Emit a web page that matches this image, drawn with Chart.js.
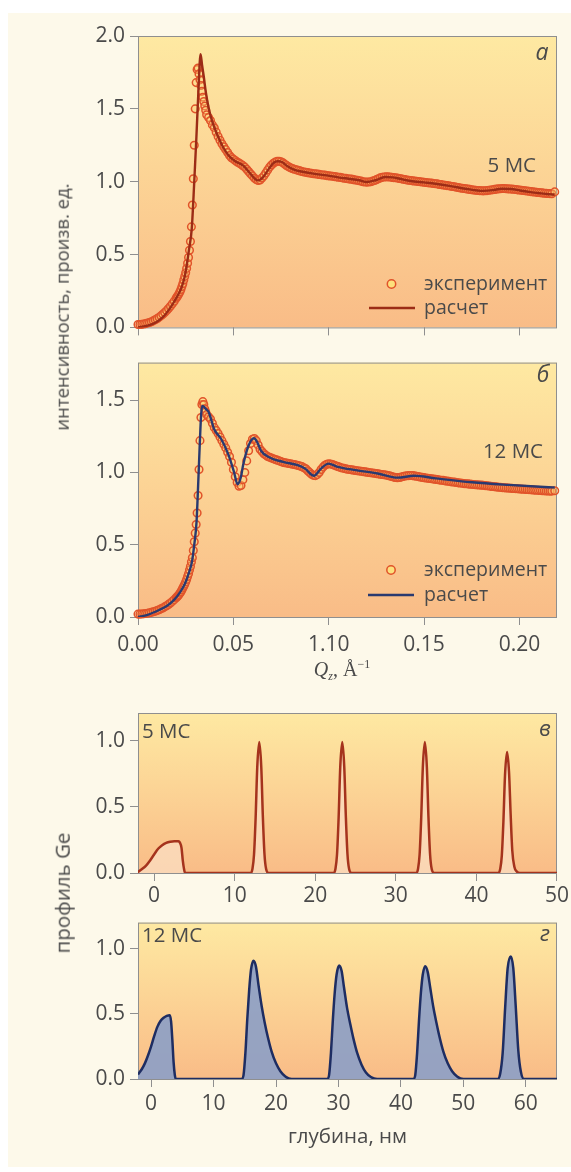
<!DOCTYPE html>
<html lang="ru">
<head>
<meta charset="utf-8">
<title>Рентгеновская рефлектометрия и профили Ge</title>
<script src="https://cdn.jsdelivr.net/npm/chart.js@4.4.1/dist/chart.umd.min.js"></script>
<style>
  html, body { margin: 0; padding: 0; background: #ffffff; }
  #page { position: relative; width: 571px; height: 1172px; overflow: hidden; font-family: "Open Sans", sans-serif; }
  #sheet { position: absolute; left: 8px; top: 13px; width: 563px; height: 1154px; background: #fdf9ea; }
  canvas { position: absolute; left: 0; }
  .ytitle { position: absolute; white-space: nowrap; color: #4a4a4a; line-height: 1;
            transform: translate(-50%, -50%) rotate(-90deg); }
  #qz { position: absolute; left: 342px; top: 670px; transform: translate(-50%, -50%); white-space: nowrap;
        font-family: "Liberation Serif", "DejaVu Serif", serif; font-size: 20px; color: #4a4a4a; line-height: 1; }
  #qz sub { font-size: 12px; vertical-align: -4px; font-style: italic; }
  #qz sup { font-size: 12px; vertical-align: 8px; }
</style>
</head>
<body>
<div id="page">
  <div id="sheet"></div>
  <canvas id="cA" width="571" height="345" style="top:0px"></canvas>
  <canvas id="cB" width="571" height="350" style="top:345px"></canvas>
  <canvas id="cC" width="571" height="215" style="top:695px"></canvas>
  <canvas id="cD" width="571" height="267" style="top:905px"></canvas>
  <div class="ytitle" style="left:62px; top:307px; font-size:18.5px">интенсивность, произв. ед.</div>
  <div class="ytitle" style="left:62px; top:893px; font-size:20.5px">профиль Ge</div>
  <div id="qz"><i>Q</i><sub>z</sub>, Å<sup>−1</sup></div>
</div>
<script>
// ---------- reflectivity, 5 MC sample: fitted curve ----------
const qCalc5 = [0, 0.005, 0.0093, 0.013, 0.017, 0.020, 0.0227, 0.0245, 0.0256, 0.0267,
  0.0282, 0.0295, 0.0306, 0.0316, 0.0328, 0.0336, 0.0345, 0.0355, 0.037, 0.039,
  0.0418, 0.0445, 0.0475, 0.051, 0.0552, 0.059, 0.0628, 0.0655, 0.0686, 0.0712,
  0.0733, 0.0755, 0.078, 0.0815, 0.0857, 0.092, 0.099, 0.105, 0.1105, 0.116,
  0.120, 0.1245, 0.1296, 0.1335, 0.1373, 0.143, 0.150, 0.156, 0.164, 0.1717,
  0.181, 0.186, 0.1907, 0.1955, 0.2003, 0.205, 0.210, 0.2155, 0.2185];
const iCalc5 = [0.0, 0.012, 0.034, 0.07, 0.136, 0.2, 0.27, 0.35, 0.43, 0.53,
  0.68, 1.0, 1.3, 1.6, 1.875, 1.80, 1.72, 1.62, 1.51, 1.41,
  1.315, 1.24, 1.18, 1.14, 1.11, 1.054, 1.009, 1.03, 1.088, 1.13,
  1.14, 1.135, 1.11, 1.085, 1.07, 1.055, 1.043, 1.03, 1.02, 1.01,
  0.998, 1.01, 1.032, 1.03, 1.02, 1.005, 0.995, 0.986, 0.97, 0.952,
  0.937, 0.942, 0.952, 0.95, 0.94, 0.93, 0.922, 0.914, 0.912];

// ---------- measured points (same Q grid for both samples) ----------
const qExp = [0.000, 0.001, 0.002, 0.003, 0.004, 0.005, 0.006, 0.007, 0.008, 0.009,
  0.010, 0.011, 0.012, 0.013, 0.014, 0.015, 0.016, 0.017, 0.018, 0.019,
  0.020, 0.0205, 0.021, 0.0215, 0.022, 0.0225, 0.023, 0.0235, 0.024, 0.0245,
  0.025, 0.0255, 0.026, 0.0265, 0.027, 0.0275, 0.028, 0.0285, 0.029, 0.0295,
  0.030, 0.0305, 0.031, 0.0315, 0.032, 0.0325, 0.033, 0.0335, 0.034, 0.0345,
  0.035, 0.0355, 0.036,
  0.037, 0.038, 0.039, 0.040, 0.041, 0.042, 0.043, 0.044, 0.045, 0.046,
  0.047, 0.048, 0.049, 0.050, 0.051, 0.052, 0.053, 0.054, 0.055, 0.056,
  0.057, 0.058, 0.059, 0.060, 0.061, 0.062, 0.063, 0.064, 0.065, 0.066,
  0.067, 0.068, 0.069, 0.070, 0.071, 0.072, 0.073, 0.074, 0.075, 0.076,
  0.077, 0.078, 0.079, 0.080, 0.081, 0.082, 0.083, 0.084, 0.085, 0.086,
  0.087, 0.088, 0.089, 0.090, 0.091, 0.092, 0.093, 0.094, 0.095, 0.096,
  0.097, 0.098, 0.099, 0.100, 0.101, 0.102, 0.103, 0.104, 0.105, 0.106,
  0.107, 0.108, 0.109, 0.110, 0.111, 0.112, 0.113, 0.114, 0.115, 0.116,
  0.117, 0.118, 0.119, 0.120, 0.121, 0.122, 0.123, 0.124, 0.125, 0.126,
  0.127, 0.128, 0.129, 0.130, 0.131, 0.132, 0.133, 0.134, 0.135, 0.136,
  0.137, 0.138, 0.139, 0.140, 0.141, 0.142, 0.143, 0.144, 0.145, 0.146,
  0.147, 0.148, 0.149, 0.150, 0.151, 0.152, 0.153, 0.154, 0.155, 0.156,
  0.157, 0.158, 0.159, 0.160, 0.161, 0.162, 0.163, 0.164, 0.165, 0.166,
  0.167, 0.168, 0.169, 0.170, 0.171, 0.172, 0.173, 0.174, 0.175, 0.176,
  0.177, 0.178, 0.179, 0.180, 0.181, 0.182, 0.183, 0.184, 0.185, 0.186,
  0.187, 0.188, 0.189, 0.190, 0.191, 0.192, 0.193, 0.194, 0.195, 0.196,
  0.197, 0.198, 0.199, 0.200, 0.201, 0.202, 0.203, 0.204, 0.205, 0.206,
  0.207, 0.208, 0.209, 0.210, 0.211, 0.212, 0.213, 0.214, 0.215, 0.216,
  0.217, 0.2185];
const iExp5 = [0.020, 0.020, 0.021, 0.023, 0.026, 0.030, 0.034, 0.039, 0.045, 0.052,
  0.060, 0.069, 0.079, 0.090, 0.102, 0.115, 0.130, 0.145, 0.162, 0.180,
  0.200, 0.210, 0.220, 0.232, 0.245, 0.260, 0.280, 0.300, 0.325, 0.350,
  0.375, 0.405, 0.440, 0.480, 0.530, 0.590, 0.690, 0.840, 1.020, 1.250,
  1.500, 1.680, 1.770, 1.780, 1.740, 1.700, 1.660, 1.620, 1.580, 1.550,
  1.520, 1.490, 1.460,
  1.44, 1.42, 1.39, 1.37, 1.34, 1.31, 1.285, 1.26, 1.24, 1.22,
  1.20, 1.18, 1.165, 1.155, 1.145, 1.135, 1.128, 1.12, 1.11, 1.10,
  1.085, 1.07, 1.055, 1.04, 1.025, 1.015, 1.008, 1.012, 1.025, 1.04,
  1.06, 1.08, 1.10, 1.115, 1.127, 1.135, 1.14, 1.14, 1.137, 1.13,
  1.12, 1.11, 1.102, 1.095, 1.09, 1.085, 1.081, 1.078, 1.074, 1.07,
  1.067, 1.065, 1.062, 1.06, 1.057, 1.055, 1.054, 1.052, 1.05, 1.048,
  1.046, 1.045, 1.042, 1.04, 1.039, 1.037, 1.035, 1.033, 1.031, 1.03,
  1.027, 1.024, 1.023, 1.02, 1.018, 1.018, 1.014, 1.012, 1.01, 1.007,
  1.004, 1.0, 0.998, 0.997, 0.998, 1.0, 1.004, 1.008, 1.014, 1.02,
  1.026, 1.03, 1.032, 1.033, 1.033, 1.032, 1.03, 1.028, 1.027, 1.025,
  1.022, 1.02, 1.017, 1.015, 1.012, 1.01, 1.008, 1.006, 1.005, 1.003,
  1.001, 1.0, 0.998, 0.996, 0.995, 0.993, 0.991, 0.99, 0.988, 0.986,
  0.985, 0.981, 0.98, 0.977, 0.976, 0.973, 0.972, 0.969, 0.967, 0.965,
  0.962, 0.96, 0.957, 0.955, 0.953, 0.951, 0.949, 0.947, 0.945, 0.943,
  0.941, 0.94, 0.939, 0.938, 0.937, 0.938, 0.939, 0.941, 0.943, 0.945,
  0.947, 0.949, 0.951, 0.952, 0.953, 0.953, 0.952, 0.951, 0.95, 0.949,
  0.948, 0.946, 0.944, 0.943, 0.941, 0.94, 0.938, 0.936, 0.934, 0.932,
  0.93, 0.929, 0.927, 0.926, 0.924, 0.923, 0.921, 0.92, 0.919, 0.918,
  0.917, 0.93];
const iExp12 = [0.020, 0.020, 0.021, 0.022, 0.024, 0.026, 0.029, 0.032, 0.036, 0.040,
  0.045, 0.050, 0.056, 0.062, 0.070, 0.078, 0.087, 0.097, 0.108, 0.120,
  0.133, 0.140, 0.147, 0.155, 0.165, 0.175, 0.187, 0.200, 0.213, 0.227,
  0.243, 0.260, 0.280, 0.300, 0.325, 0.350, 0.380, 0.410, 0.460, 0.520,
  0.580, 0.640, 0.720, 0.840, 1.020, 1.220, 1.380, 1.470, 1.490, 1.470,
  1.440, 1.420, 1.400,
  1.385, 1.37, 1.34, 1.31, 1.29, 1.27, 1.245, 1.22, 1.195, 1.17,
  1.14, 1.11, 1.07, 1.02, 0.97, 0.93, 0.905, 0.91, 0.95, 1.0,
  1.08, 1.15, 1.2, 1.23, 1.235, 1.22, 1.19, 1.16, 1.145, 1.13,
  1.12, 1.11, 1.105, 1.10, 1.095, 1.09, 1.085, 1.08, 1.075, 1.07,
  1.067, 1.065, 1.062, 1.06, 1.057, 1.055, 1.052, 1.048, 1.044, 1.04,
  1.033, 1.025, 1.012, 1.0, 0.988, 0.98, 0.978, 0.985, 1.0, 1.02,
  1.037, 1.05, 1.057, 1.06, 1.058, 1.055, 1.05, 1.045, 1.04, 1.035,
  1.031, 1.028, 1.025, 1.022, 1.02, 1.018, 1.016, 1.014, 1.012, 1.01,
  1.008, 1.006, 1.004, 1.002, 1.0, 0.998, 0.996, 0.994, 0.992, 0.99,
  0.988, 0.986, 0.984, 0.982, 0.979, 0.976, 0.972, 0.968, 0.965, 0.964,
  0.965, 0.968, 0.972, 0.975, 0.977, 0.978, 0.979, 0.978, 0.976, 0.974,
  0.971, 0.968, 0.966, 0.964, 0.962, 0.96, 0.958, 0.956, 0.954, 0.952,
  0.951, 0.948, 0.946, 0.945, 0.942, 0.94, 0.939, 0.936, 0.934, 0.933,
  0.93, 0.928, 0.927, 0.925, 0.923, 0.922, 0.921, 0.919, 0.918, 0.917,
  0.915, 0.914, 0.913, 0.912, 0.911, 0.909, 0.908, 0.906, 0.904, 0.903,
  0.901, 0.9, 0.898, 0.897, 0.895, 0.894, 0.893, 0.892, 0.891, 0.89,
  0.889, 0.888, 0.887, 0.886, 0.885, 0.884, 0.883, 0.882, 0.881, 0.88,
  0.879, 0.878, 0.877, 0.876, 0.875, 0.874, 0.873, 0.872, 0.872, 0.871,
  0.871, 0.873];

// ---------- reflectivity, 12 MC sample: fitted curve ----------
const qCalc12 = [0, 0.005, 0.0113, 0.0155, 0.0189, 0.022, 0.0246, 0.0268, 0.0284, 0.0295,
  0.0307, 0.0315, 0.0324, 0.0331, 0.0337, 0.0345, 0.0355, 0.037, 0.0385, 0.0399,
  0.0437, 0.0475, 0.0503, 0.0522, 0.054, 0.0551, 0.058, 0.0608, 0.0625, 0.0645,
  0.0685, 0.0761, 0.0837, 0.0875, 0.0923, 0.096, 0.0999, 0.1047, 0.1142, 0.1257,
  0.1362, 0.1448, 0.1562, 0.1752, 0.1943, 0.2153, 0.2185];
const iCalc12 = [0.0, 0.015, 0.05, 0.08, 0.118, 0.17, 0.23, 0.31, 0.39, 0.50,
  0.66, 0.90, 1.20, 1.40, 1.46, 1.455, 1.44, 1.42, 1.36, 1.30,
  1.23, 1.12, 1.005, 0.918, 0.97, 1.05, 1.187, 1.237, 1.21, 1.15,
  1.107, 1.073, 1.05, 1.027, 0.977, 1.027, 1.061, 1.039, 1.016, 0.993,
  0.964, 0.977, 0.959, 0.932, 0.914, 0.898, 0.896];

// ---------- Ge depth profiles ----------
const depth5 = [-2.1, -1.5, -1, -0.5, 0, 0.5, 1, 1.5, 2, 2.5, 3.0, 3.2, 3.4, 3.55, 3.7, 3.85,
  12.0, 12.2, 12.4, 12.6, 12.8, 13.05, 13.3, 13.5, 13.7, 13.9, 14.2,
  22.3, 22.5, 22.7, 22.9, 23.1, 23.35, 23.6, 23.8, 24.0, 24.2, 24.5,
  32.55, 32.75, 32.95, 33.15, 33.35, 33.6, 33.85, 34.05, 34.25, 34.45, 34.75,
  42.75, 42.95, 43.15, 43.35, 43.55, 43.8, 44.05, 44.25, 44.45, 44.7, 45.0, 45.4, 50];
const ge5 = [0.004, 0.03, 0.056, 0.095, 0.14, 0.183, 0.21, 0.228, 0.237, 0.241, 0.24, 0.23, 0.19, 0.1, 0.035, 0,
  0, 0.03, 0.14, 0.42, 0.8, 0.99, 0.8, 0.42, 0.14, 0.03, 0,
  0, 0.03, 0.14, 0.42, 0.8, 0.99, 0.8, 0.42, 0.14, 0.03, 0,
  0, 0.03, 0.14, 0.42, 0.8, 0.99, 0.8, 0.42, 0.14, 0.03, 0,
  0, 0.03, 0.13, 0.39, 0.74, 0.915, 0.76, 0.44, 0.17, 0.05, 0.012, 0, 0];

const depth12 = [-2.1, -1.5, -1, -0.5, 0, 0.5, 1.0, 1.5, 2.0, 2.5, 3.0, 3.2, 3.4, 3.6, 3.8, 3.95,
  14.5, 14.8, 15.1, 15.4, 15.7, 16.0, 16.4, 16.8, 17.2, 17.7, 18.2, 18.7, 19.3, 20.0, 20.7, 21.5, 22.5,
  28.2, 28.5, 28.8, 29.1, 29.4, 29.7, 30.1, 30.5, 30.9, 31.4, 31.9, 32.4, 33.0, 33.7, 34.4, 35.2, 36.2,
  42.0, 42.3, 42.6, 42.9, 43.2, 43.5, 43.9, 44.3, 44.7, 45.2, 45.7, 46.2, 46.8, 47.5, 48.2, 49.0, 50.0,
  55.5, 55.9, 56.3, 56.7, 57.1, 57.6, 58.0, 58.4, 58.8, 59.2, 59.7, 65];
const ge12 = [0.035, 0.075, 0.12, 0.18, 0.25, 0.33, 0.40, 0.445, 0.47, 0.485, 0.49, 0.44, 0.30, 0.13, 0.03, 0,
  0, 0.03, 0.2, 0.46, 0.68, 0.84, 0.908, 0.86, 0.72, 0.56, 0.43, 0.32, 0.21, 0.12, 0.06, 0.02, 0,
  0, 0.03, 0.2, 0.45, 0.66, 0.8, 0.87, 0.83, 0.7, 0.54, 0.42, 0.31, 0.2, 0.11, 0.05, 0.015, 0,
  0, 0.03, 0.2, 0.45, 0.66, 0.8, 0.865, 0.82, 0.7, 0.55, 0.43, 0.32, 0.21, 0.12, 0.06, 0.02, 0,
  0, 0.04, 0.2, 0.55, 0.85, 0.94, 0.85, 0.55, 0.22, 0.06, 0, 0];

// ---------- axis ticks ----------
const qTicks = [0, 0.05, 0.10, 0.15, 0.20];
const qTickLabels = ['0.00', '0.05', '1.10', '0.15', '0.20'];
const intensityTicksA = [0, 0.5, 1.0, 1.5, 2.0];
const intensityTicksB = [0, 0.5, 1.0, 1.5];
const profileTicks = [0, 0.5, 1.0];
const depthTicks5 = [0, 10, 20, 30, 40, 50];
const depthTicks12 = [0, 10, 20, 30, 40, 50, 60];

// ---------- drawing ----------
const FONT = '"Open Sans", sans-serif';
const INK = '#4a4a4a';
const FRAME = '#8f8f8f';
const TICK_SIZE = 21;
const pairs = (xs, ys) => xs.map((x, i) => ({ x: x, y: ys[i] }));

const panelDecor = {
  id: 'panelDecor',
  beforeDatasetsDraw(chart, args, o) {
    const { ctx, chartArea: a } = chart;
    ctx.save();
    const g = ctx.createLinearGradient(0, a.top, 0, a.bottom);
    o.gradient.forEach(s => g.addColorStop(s[0], s[1]));
    ctx.fillStyle = g;
    ctx.fillRect(a.left, a.top, a.right - a.left, a.bottom - a.top);
    ctx.strokeStyle = FRAME;
    ctx.lineWidth = 1;
    ctx.strokeRect(a.left + 0.5, a.top + 0.5, a.right - a.left - 1, a.bottom - a.top);
    ctx.restore();
  },
  afterDraw(chart, args, o) {
    const ctx = chart.ctx;
    ctx.save();
    ctx.textBaseline = 'alphabetic';
    (o.notes || []).forEach(n => {
      ctx.font = n.font;
      ctx.fillStyle = INK;
      ctx.textAlign = n.align;
      ctx.fillText(n.text, n.x, n.y);
    });
    if (o.legend) {
      const L = o.legend;
      const ds = chart.data.datasets;
      L.rows.forEach(r => {
        const d = ds[r.dataset];
        if (r.kind === 'circle') {
          ctx.beginPath();
          ctx.arc(L.markX, r.y, d.pointRadius + 0.4, 0, Math.PI * 2);
          ctx.fillStyle = '#fde07c';
          ctx.fill();
          ctx.lineWidth = d.pointBorderWidth;
          ctx.strokeStyle = d.pointBorderColor;
          ctx.stroke();
        } else {
          ctx.beginPath();
          ctx.moveTo(L.lineX0, r.y);
          ctx.lineTo(L.lineX1, r.y);
          ctx.lineWidth = d.borderWidth;
          ctx.strokeStyle = d.borderColor;
          ctx.stroke();
        }
        ctx.font = '19.5px ' + FONT;
        ctx.fillStyle = INK;
        ctx.textAlign = 'left';
        ctx.fillText(d.label, L.textX, r.y + 6);
      });
    }
    ctx.restore();
  }
};

function panel(id, c) {
  return new Chart(document.getElementById(id), {
    type: 'line',
    data: { datasets: c.datasets },
    options: {
      responsive: false,
      animation: false,
      devicePixelRatio: 1,
      events: [],
      layout: { padding: { left: 0, right: 14, top: c.padTop, bottom: 0 } },
      plugins: {
        legend: { display: false },
        tooltip: { enabled: false },
        panelDecor: { gradient: c.gradient, notes: c.notes, legend: c.legend }
      },
      scales: {
        x: {
          type: 'linear', min: c.xMin, max: c.xMax,
          afterBuildTicks: s => { s.ticks = c.xTicks.map(v => ({ value: v })); },
          afterFit: s => { s.height = c.xHeight; },
          grid: { drawOnChartArea: false, drawTicks: true, tickLength: 8, color: FRAME, lineWidth: 1 },
          border: { display: false },
          ticks: {
            display: !!c.xLabels, autoSkip: false, maxRotation: 0, padding: c.xPad,
            font: { family: FONT, size: TICK_SIZE }, color: INK,
            callback: (v, i) => c.xLabels ? c.xLabels[i] : ''
          },
          title: c.xTitle || { display: false }
        },
        y: {
          min: 0, max: c.yMax,
          afterBuildTicks: s => { s.ticks = c.yTicks.map(v => ({ value: v })); },
          afterFit: s => { s.width = 138; },
          grid: { drawOnChartArea: false, drawTicks: true, tickLength: 8, color: FRAME, lineWidth: 1 },
          border: { display: false },
          ticks: { padding: 5, font: { family: FONT, size: TICK_SIZE }, color: INK, callback: v => v.toFixed(1) }
        }
      }
    },
    plugins: [panelDecor]
  });
}

function reflectivitySets(qc, ic, ie, lineColor) {
  return [
    { label: 'расчет', data: pairs(qc, ic), borderColor: lineColor, borderWidth: 2.4,
      pointRadius: 0, cubicInterpolationMode: 'monotone', fill: false, order: 0 },
    { label: 'эксперимент', data: pairs(qExp, ie), showLine: false, pointRadius: 3.8,
      pointBorderWidth: 1.5, pointBorderColor: '#e1532a', pointBackgroundColor: 'rgba(253,214,120,0.35)',
      pointStyle: 'circle', clip: false, order: 1 }
  ];
}

function profileSet(xs, ys, line, fillColor) {
  return [{ label: 'профиль', data: pairs(xs, ys), borderColor: line, backgroundColor: fillColor,
    borderWidth: 2.5, pointRadius: 0, cubicInterpolationMode: 'monotone', fill: 'origin' }];
}

const warm = [[0, '#fee9a2'], [0.45, '#fcd596'], [1, '#f9bc87']];

function build() {
  panel('cA', {
    padTop: 36, xHeight: 15, xPad: 6, xMin: 0, xMax: 0.2197, xTicks: qTicks, xLabels: null,
    yMax: 2.0, yTicks: intensityTicksA, gradient: warm,
    datasets: reflectivitySets(qCalc5, iCalc5, iExp5, '#9c2c16'),
    notes: [
      { text: 'a', x: 542, y: 60, align: 'center', font: 'italic 23px ' + FONT },
      { text: '5 МС', x: 536, y: 172, align: 'right', font: '20.5px ' + FONT }
    ],
    legend: { markX: 391.5, lineX0: 369, lineX1: 415, textX: 424,
      rows: [{ dataset: 1, kind: 'circle', y: 284 }, { dataset: 0, kind: 'line', y: 308 }] }
  });

  panel('cB', {
    padTop: 14, xHeight: 78, xPad: 7, xMin: 0, xMax: 0.2197, xTicks: qTicks, xLabels: qTickLabels,
    yMax: 1.76, yTicks: intensityTicksB, gradient: warm,
    datasets: reflectivitySets(qCalc12, iCalc12, iExp12, '#2a3a70'),
    notes: [
      { text: 'б', x: 543, y: 37, align: 'center', font: 'italic 23px ' + FONT },
      { text: '12 МС', x: 543, y: 113, align: 'right', font: '20.5px ' + FONT }
    ],
    legend: { markX: 391, lineX0: 368, lineX1: 414, textX: 424,
      rows: [{ dataset: 1, kind: 'circle', y: 225 }, { dataset: 0, kind: 'line', y: 250 }] }
  });

  panel('cC', {
    padTop: 18, xHeight: 37, xPad: 2, xMin: -2.0, xMax: 50, xTicks: depthTicks5,
    xLabels: depthTicks5.map(String), yMax: 1.21, yTicks: profileTicks, gradient: warm,
    datasets: profileSet(depth5, ge5, '#a5331d', 'rgba(250,218,188,0.85)'),
    notes: [
      { text: 'в', x: 545, y: 41, align: 'center', font: 'italic 22px ' + FONT },
      { text: '5 МС', x: 142, y: 43, align: 'left', font: '20.5px ' + FONT }
    ]
  });

  panel('cD', {
    padTop: 13, xHeight: 93, xPad: 4, xMin: -2.1, xMax: 65, xTicks: depthTicks12,
    xLabels: depthTicks12.map(String), yMax: 1.2, yTicks: profileTicks, gradient: warm,
    datasets: profileSet(depth12, ge12, '#1e2d62', 'rgba(141,160,198,0.92)'),
    notes: [
      { text: 'г', x: 545, y: 36, align: 'center', font: 'italic 22px ' + FONT },
      { text: '12 МС', x: 142, y: 37, align: 'left', font: '20.5px ' + FONT }
    ],
    xTitle: { display: true, text: 'глубина, нм', color: INK, font: { family: FONT, size: 20.5 },
      padding: { top: 0, bottom: 23 } }
  });
}

const fontLoads = [document.fonts.load('21px "Open Sans"'), document.fonts.load('italic 22px "Open Sans"')];
Promise.all(fontLoads).then(build, build);
</script>
</body>
</html>
